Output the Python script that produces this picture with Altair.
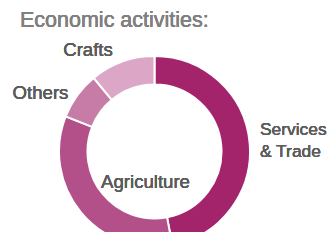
import altair as alt
import pandas as pd

categories = ["Services & Trade", "Agriculture", "Others", "Crafts"]
shares = [47, 34, 8, 11]
colors = ["#A3246B", "#B3508A", "#C77CA8", "#DCA7C7"]

df = pd.DataFrame({"category": categories, "share": shares, "order": list(range(len(categories)))})

CX, CY = 146.5, 143.5
FONT = "Liberation Sans"

donut = alt.Chart(df).mark_arc(
    innerRadius=67, outerRadius=95.5, stroke="white", strokeWidth=2
).encode(
    theta=alt.Theta("share:Q", stack=True),
    order=alt.Order("order:Q"),
    color=alt.Color("category:N", scale=alt.Scale(domain=categories, range=colors), legend=None),
    x=alt.value(CX),
    y=alt.value(CY),
)

def label(text, x, y, align="center", size=18.6):
    return alt.Chart(df).mark_text(
        text=text, align=align, baseline="alphabetic", font=FONT, fontSize=size, color="#5c5c5c"
    ).encode(x=alt.value(x), y=alt.value(y))

layers = [
    donut,
    label("Crafts", 80, 47.5),
    label("Others", 32.5, 91),
    label("Services", 252, 127, "left", 17.4),
    label("& Trade", 252, 149, "left", 17.4),
    label("Agriculture", 137.5, 180),
    alt.Chart(df).mark_text(
        text="Economic activities:", align="left", baseline="alphabetic", font=FONT,
        fontSize=21.5, color="#808080"
    ).encode(x=alt.value(12), y=alt.value(19)),
]

chart = alt.layer(*layers).properties(
    width=320, height=224, autosize=alt.AutoSizeParams(type="none"), padding=0
).configure_view(stroke=None)

chart.save("out.html", embed_options={"renderer": "svg", "actions": False})
